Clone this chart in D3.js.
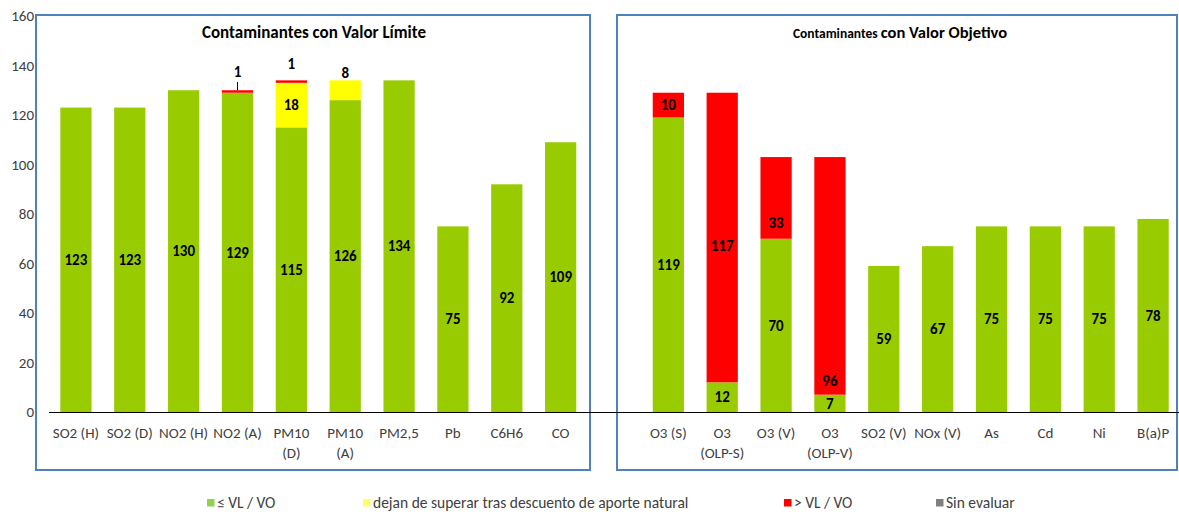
<!DOCTYPE html>
<html><head><meta charset="utf-8">
<script src="https://cdn.jsdelivr.net/npm/d3@7"></script>
<style>
html,body{margin:0;padding:0;background:#fff;}
svg{display:block;font-family:Carlito,Calibri,Lato,"Open Sans",sans-serif;}
</style></head>
<body>
<svg id="chart" width="1179" height="512"></svg>
<script>
// ---- data ----
const categories = ["SO2 (H)","SO2 (D)","NO2 (H)","NO2 (A)","PM10\n(D)","PM10\n(A)","PM2,5","Pb","C6H6","CO",
  " ",
  "O3 (S)","O3\n(OLP-S)","O3 (V)","O3\n(OLP-V)","SO2 (V)","NOx (V)","As","Cd","Ni","B(a)P"];
const okValues      = [123,123,130,129,115,126,134,75,92,109, 0, 119,12,70,7,59,67,75,75,75,78];
const naturalValues = [0,0,0,0,18,8,0,0,0,0, 0, 0,0,0,0,0,0,0,0,0,0];
const exceedValues  = [0,0,0,1,1,0,0,0,0,0, 0, 10,117,33,96,0,0,0,0,0,0];
const unevalValues  = [0,0,0,0,0,0,0,0,0,0, 0, 0,0,0,0,0,0,0,0,0,0];
const seriesNames = ["≤ VL / VO","dejan de superar tras descuento de aporte natural","> VL / VO","Sin evaluar"];
const yTicks = [0,20,40,60,80,100,120,140,160];
const panelTitles = ["Contaminantes con Valor Límite","Contaminantes con Valor Objetivo"];

// ---- styling / layout (not data) ----
const colors = ["#99CC00","#FFFF00","#FF0000","#808080"];
const legendColors = ["#92D050","#FFFF66","#FF0000","#808080"];
// manual label placements (value-axis position) for labels Excel moved
const labelPlace = {
  "2|NO2 (A)": {at: 137.4, leader: true},
  "2|PM10\n(D)": {at: 140.6},
  "1|PM10\n(A)": {at: 137},
  "2|O3\n(OLP-S)": {at: 67},
  "2|O3 (V)": {at: 76.4},
  "2|O3\n(OLP-V)": {at: 12.5}
};

const svg = d3.select("#chart");
const x = d3.scaleBand().domain(categories).range([49, 1180]).paddingInner(0.42).paddingOuter(0.21);
const y = d3.scaleLinear().domain([0,160]).range([412, 16]);

const rows = categories.map((c,i)=>({cat:c, s0:okValues[i], s1:naturalValues[i], s2:exceedValues[i], s3:unevalValues[i]}));
const stack = d3.stack().keys(["s0","s1","s2","s3"]);
const stacked = stack(rows);

// panel boxes
svg.append("rect").attr("x",36).attr("y",15).attr("width",554).attr("height",455)
  .attr("fill","none").attr("stroke","#4F81BD").attr("stroke-width",2);
svg.append("rect").attr("x",617).attr("y",15).attr("width",560).attr("height",455)
  .attr("fill","none").attr("stroke","#4F81BD").attr("stroke-width",2);

// y tick labels
svg.append("g").selectAll("text").data(yTicks).join("text")
  .attr("x",34).attr("y",d=>y(d)).attr("dy","0.35em").attr("text-anchor","end")
  .attr("font-size",15).attr("fill","#404040").text(d=>d);

// bars
const g = svg.append("g");
stacked.forEach((layer,si)=>{
  g.append("g").selectAll("rect").data(layer.filter(d=>d[1]-d[0]>0)).join("rect")
    .attr("x",d=>x(d.data.cat)).attr("width",x.bandwidth())
    .attr("y",d=>y(d[1])).attr("height",d=>y(d[0])-y(d[1]))
    .attr("fill",colors[si]);
});

// x axis line
svg.append("line").attr("x1",49).attr("x2",1179).attr("y1",y(0)+0.5).attr("y2",y(0)+0.5)
  .attr("stroke","#000").attr("stroke-width",1.2);

// x labels
const xl = svg.append("g").selectAll("text").data(categories).join("text")
  .attr("x",d=>x(d)+x.bandwidth()/2).attr("y",438).attr("text-anchor","middle")
  .attr("font-size",15).attr("fill","#404040");
xl.each(function(d){
  const lines=d.split("\n");
  lines.forEach((l,i)=>d3.select(this).append("tspan").attr("x",x(d)+x.bandwidth()/2).attr("dy",i?20:0).text(l));
});

// data labels
const lab = svg.append("g");
stacked.forEach((layer,si)=>{
  layer.forEach(d=>{
    const v=d[1]-d[0]; if(v<=0) return;
    const key=si+"|"+d.data.cat;
    const cx=x(d.data.cat)+x.bandwidth()/2;
    const p=labelPlace[key];
    const at = p ? p.at : (d[0]+d[1])/2;
    lab.append("text").attr("x",cx).attr("y",y(at)).attr("dy","0.35em")
      .attr("text-anchor","middle").attr("font-size",15).attr("font-weight","bold")
      .attr("fill","#000").text(v);
    if(p && p.leader){
      lab.append("line").attr("x1",cx).attr("x2",cx).attr("y1",y(at)+10).attr("y2",y(d[1])).attr("stroke","#000").attr("stroke-width",1);
    }
  });
});

// titles
svg.append("text").attr("x",314).attr("y",38).attr("text-anchor","middle")
  .attr("font-size",17).attr("font-weight","bold").attr("fill","#000").text(panelTitles[0]);
const t2 = svg.append("text").attr("x",900).attr("y",38).attr("text-anchor","middle")
  .attr("font-weight","bold").attr("fill","#000");
const parts = panelTitles[1].split(" con ");
t2.append("tspan").attr("font-size",13.5).text(parts[0]+" ");
t2.append("tspan").attr("font-size",16.5).text("con "+parts[1]);

// legend
const legendX = [207, 363, 784, 936];
const lg = svg.append("g");
seriesNames.forEach((n,i)=>{
  lg.append("rect").attr("x",legendX[i]).attr("y",499).attr("width",7.5).attr("height",7.5).attr("fill",legendColors[i]);
  lg.append("text").attr("x",legendX[i]+10).attr("y",502.5).attr("dy","0.35em")
    .attr("font-size",15.5).attr("fill","#404040").text(n);
});
</script>
</body></html>
